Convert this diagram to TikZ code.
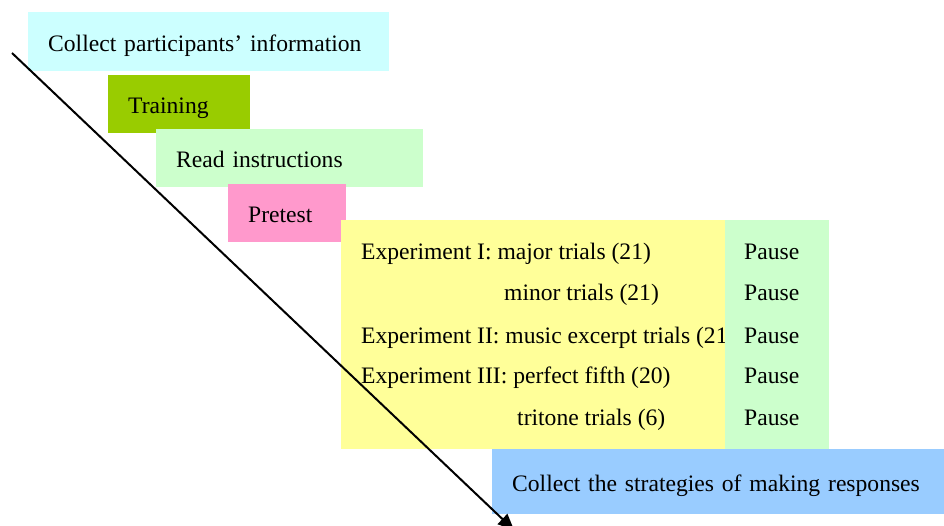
\documentclass[tikz,border=0pt]{standalone}
\usepackage{fontspec}
\setmainfont{Liberation Serif}
\usetikzlibrary{arrows.meta}
\definecolor{infocyan}{HTML}{CCFFFF}
\definecolor{trainlime}{HTML}{99CC00}
\definecolor{mintgreen}{HTML}{CCFFCC}
\definecolor{pretestpink}{HTML}{FF99CC}
\definecolor{trialyellow}{HTML}{FFFF99}
\definecolor{strategyblue}{HTML}{99CCFF}
\begin{document}
\begin{tikzpicture}[x=1pt,y=-1pt,font=\fontsize{23.6}{28}\selectfont,
  stage/.style={anchor=north west,inner xsep=20pt,inner ysep=0pt,align=left,text height=19pt,text depth=0pt},
  trial/.style={anchor=base west,inner sep=0pt}]
 \useasboundingbox (0,0) rectangle (944,526);
 \node[stage,fill=infocyan,text width=321pt,minimum height=59pt] (info) at (28,12) {Collect participants' information};
 \node[stage,fill=trainlime,text width=102pt,minimum height=58pt] (training) at (108,75) {Training};
 \node[stage,fill=mintgreen,text width=227pt,minimum height=58pt] (instr) at (156,129) {Read instructions};
 \node[stage,fill=pretestpink,text width=78pt,minimum height=58pt] (pretest) at (228,184) {Pretest};
 \node[fill=trialyellow,anchor=north west,inner sep=0pt,minimum width=384pt,minimum height=229pt] (trials) at (341,220) {}; %試行
 \node[trial] (expI) at (361,260) {Experiment I: major trials (21)};
 \node[trial] (minor) at (504,301) {minor trials (21)};
 \node[trial] (expII) at (361,343) {Experiment II: music excerpt trials (21)};
 \node[trial] (expIII) at (361,383) {Experiment III: perfect fifth (20)};
 \node[trial] (tritone) at (517,425) {tritone trials (6)};
 \node[fill=mintgreen,anchor=north west,inner sep=0pt,minimum width=104pt,minimum height=229pt] (pausecol) at (725,220) {}; %休止
 \foreach \y/\n in {260/1,301/2,343/3,383/4,425/5}
   \node[trial] (pause\n) at (744,\y) {Pause};
 \node[stage,fill=strategyblue,text width=412pt,minimum height=65pt] (strategy) at (492,449) {Collect the strategies of making responses};
 \coordinate (start) at (12,53);
 \coordinate (finish) at (514,530);
 \draw[line width=2pt,-{Triangle[length=16pt,width=14pt]}] (start)--(finish); %時間軸
\end{tikzpicture}
\end{document}
